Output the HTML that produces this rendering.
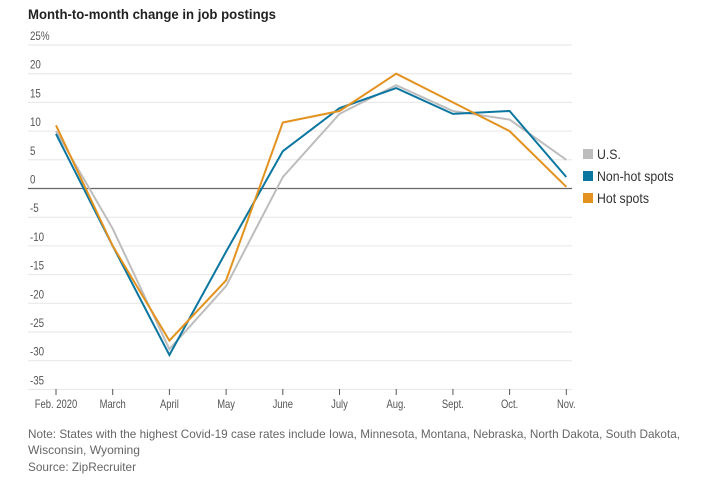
<!DOCTYPE html>
<html><head><meta charset="utf-8"><style>
body{margin:0;background:#fff;width:708px;height:482px;overflow:hidden;font-family:"Liberation Sans",sans-serif;}
</style></head><body>
<svg id="chart" width="708" height="482" style="position:absolute;left:0;top:0">
<text x="28" y="19" font-size="14" font-weight="bold" fill="#222" textLength="248" lengthAdjust="spacingAndGlyphs">Month-to-month change in job postings</text>
<g font-size="12" fill="#666">
<text x="28" y="438" textLength="652" lengthAdjust="spacingAndGlyphs">Note: States with the highest Covid-19 case rates include Iowa, Minnesota, Montana, Nebraska, North Dakota, South Dakota,</text>
<text x="28" y="454" textLength="112" lengthAdjust="spacingAndGlyphs">Wisconsin, Wyoming</text>
<text x="28" y="471" textLength="108" lengthAdjust="spacingAndGlyphs">Source: ZipRecruiter</text>
</g>
</svg>
<script>
const months=["Feb. 2020","March","April","May","June","July","Aug.","Sept.","Oct.","Nov."];
const yTicks=[25,20,15,10,5,0,-5,-10,-15,-20,-25,-30,-35];
const usVals=[10,-7,-28,-17,2,13,18,13.5,12,5];
const nonHotVals=[9.5,-10,-29,-11,6.5,14,17.5,13,13.5,2];
const hotVals=[11,-10,-26.5,-16,11.5,13.5,20,15,10,0.3];
const seriesNames=["U.S.","Non-hot spots","Hot spots"];
const seriesColors=["#bdbdbd","#0b76a0","#e3921f"];
const NS="http://www.w3.org/2000/svg";
const svg=document.getElementById('chart');
const x=i=>56+i*56.7;
const y=v=>188.5-v*5.74;
function mk(t,a){const e=document.createElementNS(NS,t);for(const k in a)e.setAttribute(k,a[k]);svg.appendChild(e);return e;}
yTicks.forEach(v=>{
  const l=mk('line',{x1:28,x2:572,y1:y(v),y2:y(v),stroke:v===0?'#666':'#e6e6e6','stroke-width':v===0?1.2:1});
  
  
  const t=mk('text',{x:30,y:y(v)-5,'font-size':11.5,fill:'#555',transform:'translate(30,0) scale(0.85,1) translate(-30,0)'});
  t.textContent=v===25?'25%':String(v);
  
  
});
months.forEach((m,i)=>{
  const l=mk('line',{x1:x(i),x2:x(i),y1:389,y2:395,stroke:'#555'});
  
  
  const t=mk('text',{x:x(i),y:408,'font-size':11.5,fill:'#555','text-anchor':'middle',transform:`translate(${x(i)},0) scale(0.82,1) translate(${-x(i)},0)`});
  t.textContent=m;
  
  
});
[usVals,nonHotVals,hotVals].forEach((vals,s)=>{
  const p=mk('polyline',{points:vals.map((v,i)=>x(i)+','+y(v)).join(' '),fill:'none',stroke:seriesColors[s],'stroke-width':2,'stroke-linejoin':'miter'});
  
  
  const r=mk('rect',{x:583,y:149+s*22,width:10,height:10,fill:seriesColors[s]});
  
  
  const t=mk('text',{x:597,y:159+s*22,'font-size':14,fill:'#333',transform:'translate(597,0) scale(0.88,1) translate(-597,0)'});
  t.textContent=seriesNames[s];
  
  
});
</script>
</body></html>
